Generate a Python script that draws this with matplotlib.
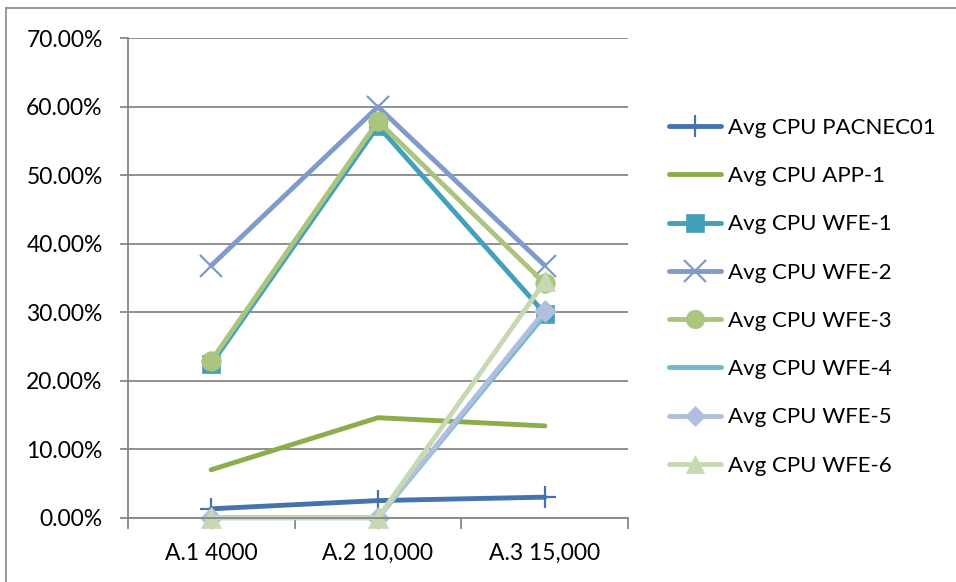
import matplotlib
matplotlib.use("Agg")
import matplotlib.pyplot as plt
from matplotlib.lines import Line2D
from matplotlib.ticker import FuncFormatter, MultipleLocator

# Test runs and average CPU load per server
categories = ["A.1 4000", "A.2 10,000", "A.3 15,000"]
series_names = [
    "Avg CPU PACNEC01",
    "Avg CPU APP-1",
    "Avg CPU WFE-1",
    "Avg CPU WFE-2",
    "Avg CPU WFE-3",
    "Avg CPU WFE-4",
    "Avg CPU WFE-5",
    "Avg CPU WFE-6",
]
pacnec01 = [0.013, 0.025, 0.030]
app_1 = [0.070, 0.146, 0.134]
wfe_1 = [0.224, 0.572, 0.298]
wfe_2 = [0.368, 0.600, 0.368]
wfe_3 = [0.229, 0.579, 0.342]
wfe_4 = [0.0, 0.0, 0.296]
wfe_5 = [0.0, 0.0, 0.302]
wfe_6 = [0.0, 0.0, 0.345]
series_values = [pacnec01, app_1, wfe_1, wfe_2, wfe_3, wfe_4, wfe_5, wfe_6]

colors = ["#4573AB", "#8CAD4B", "#43A0BA", "#7E9BCB", "#ABC57F", "#72B9CF", "#AFBFDD", "#C7D9B2"]
markers = ["+", None, "s", "x", "o", None, "D", "^"]
msizes = [16, 0, 13, 16, 14, 0, 11, 14]
medges = [1.6, 0, 0, 1.6, 0, 0, 0, 0]

plt.rcParams["font.family"] = ["Lato", "DejaVu Sans"]

W, H = 956, 582
fig = plt.figure(figsize=(W / 100, H / 100), dpi=100)
fig.patch.set_facecolor("white")

left, right, top, bottom = 127.7, 628.3, 38.3, 517.7
ax = fig.add_axes([left / W, 1 - bottom / H, (right - left) / W, (bottom - top) / H])

x = list(range(len(categories)))
for name, vals, c, m, ms, me in zip(series_names, series_values, colors, markers, msizes, medges):
    kw = {}
    if m is not None:
        kw = dict(marker=m, markersize=ms, markerfacecolor=c, markeredgecolor=c,
                  markeredgewidth=me if me else 0.5)
    ax.plot(x, vals, color=c, linewidth=3.5, label=name, solid_capstyle="round",
            solid_joinstyle="round", clip_on=False, **kw)

grid_c = "#878787"
ax.set_xlim(-0.5, len(categories) - 0.5)
ax.set_ylim(0, 0.70)
ax.yaxis.set_major_locator(MultipleLocator(0.10))
ax.yaxis.set_major_formatter(FuncFormatter(lambda v, p: f"{v * 100:.2f}%"))
ax.set_xticks(x)
ax.set_xticklabels(categories)
ax.set_xticks([i + 0.5 for i in [-1] + x], minor=True)
ax.tick_params(axis="x", which="major", length=0, pad=18, labelsize=16.5)
ax.tick_params(axis="x", which="minor", length=8, width=1.3, color=grid_c)
ax.tick_params(axis="y", length=6, width=1.3, color=grid_c, pad=12, labelsize=16.5)
ax.grid(axis="y", color=grid_c, linewidth=1.3)
ax.set_axisbelow(True)
for s in ["top", "right"]:
    ax.spines[s].set_visible(False)
for s in ["left", "bottom"]:
    ax.spines[s].set_color(grid_c)
    ax.spines[s].set_linewidth(1.3)

leg = ax.legend(loc="upper left", bbox_to_anchor=(669 / W, 1 - 118 / H),
                bbox_transform=fig.transFigure, frameon=False, fontsize=16,
                handlelength=2.35, handletextpad=0.3, labelspacing=1.27,
                numpoints=1, borderaxespad=0, borderpad=0)
for h in leg.legend_handles:
    h.set_markersize(h.get_markersize() * 0.95)

# chart frame
fc = "#888888"
fig.add_artist(Line2D([6 / W, 6 / W], [0, 1 - 8 / H], transform=fig.transFigure, color=fc, linewidth=1.2))
fig.add_artist(Line2D([6 / W, 1], [1 - 8 / H, 1 - 8 / H], transform=fig.transFigure, color=fc, linewidth=1.2))

fig.savefig("out.png", dpi=100, facecolor="white")
